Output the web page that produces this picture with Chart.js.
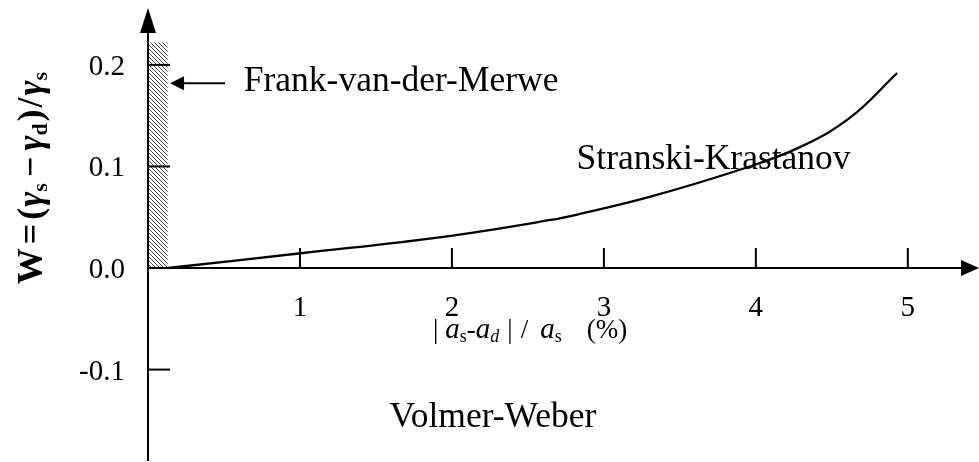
<!DOCTYPE html>
<html>
<head>
<meta charset="utf-8">
<script src="https://cdn.jsdelivr.net/npm/chart.js@4/dist/chart.umd.min.js"></script>
<style>
  html, body { margin: 0; padding: 0; background: #fff; }
  #wrap { width: 979px; height: 462px; }
</style>
</head>
<body>
<div id="wrap"><canvas id="growthChart" width="979" height="462"></canvas></div>
<script>
// misfit |as-ad|/as (%) against wetting parameter W
var misfit = [0.13, 1.02, 1.93, 2.65, 2.84, 3.30, 3.93, 4.29, 4.62, 4.93];
var wetting = [0, 0.0148, 0.0305, 0.0473, 0.0532, 0.070, 0.0985, 0.119, 0.148, 0.192];

// hatched Frank-van-der-Merwe strip at small misfit
var fvdmX = [0, 0.13];
var fvdmTop = 0.222;

var xTicks = [1, 2, 3, 4, 5];
var xTickLabels = ['1', '2', '3', '4', '5'];
var yTicks = [-0.1, 0, 0.1, 0.2];
var yTickLabels = ['-0.1', '0.0', '0.1', '0.2'];

var SERIF = '"Liberation Serif", "Times New Roman", serif';

// diagonal hatch fill
function makeHatch() {
  var c = document.createElement('canvas');
  c.width = 4; c.height = 4;
  var g = c.getContext('2d');
  g.strokeStyle = '#444';
  g.lineWidth = 1;
  g.beginPath();
  g.moveTo(-1, -1); g.lineTo(5, 5);
  g.moveTo(-1, 3); g.lineTo(1, 5);
  g.moveTo(3, -1); g.lineTo(5, 1);
  g.stroke();
  return g.createPattern(c, 'repeat');
}

// draws a row of text pieces with their own fonts and vertical shifts
function drawPieces(ctx, pieces, x, y) {
  var cx = x;
  pieces.forEach(function (p) {
    ctx.font = p.font;
    ctx.fillText(p.text, cx, y + (p.dy || 0));
    cx += ctx.measureText(p.text).width + (p.gap || 0);
  });
  return cx - x;
}
function piecesWidth(ctx, pieces) {
  var w = 0;
  pieces.forEach(function (p) {
    ctx.font = p.font;
    w += ctx.measureText(p.text).width + (p.gap || 0);
  });
  return w;
}

var axesPlugin = {
  id: 'axesPlugin',
  afterDatasetsDraw: function (chart) {
    var ctx = chart.ctx;
    var xs = chart.scales.x, ys = chart.scales.y;
    var area = chart.chartArea;
    var x0 = xs.getPixelForValue(0), y0 = ys.getPixelForValue(0);
    ctx.save();
    ctx.strokeStyle = '#000';
    ctx.fillStyle = '#000';
    ctx.lineWidth = 2;

    // y axis with arrow
    ctx.beginPath();
    ctx.moveTo(x0, area.bottom);
    ctx.lineTo(x0, area.top + 20);
    ctx.stroke();
    ctx.beginPath();
    ctx.moveTo(x0, area.top);
    ctx.lineTo(x0 - 8, area.top + 25);
    ctx.lineTo(x0 + 8, area.top + 25);
    ctx.closePath();
    ctx.fill();

    // x axis with arrow
    ctx.beginPath();
    ctx.moveTo(x0, y0);
    ctx.lineTo(chart.width - 12, y0);
    ctx.stroke();
    ctx.beginPath();
    ctx.moveTo(chart.width, y0);
    ctx.lineTo(chart.width - 18, y0 - 8);
    ctx.lineTo(chart.width - 18, y0 + 8);
    ctx.closePath();
    ctx.fill();

    // y ticks point into the plot
    ctx.font = '29px ' + SERIF;
    ctx.textAlign = 'right';
    ctx.textBaseline = 'alphabetic';
    yTicks.forEach(function (v, i) {
      var py = ys.getPixelForValue(v);
      if (v !== 0) {
        ctx.beginPath();
        ctx.moveTo(x0, py);
        ctx.lineTo(x0 + 22, py);
        ctx.stroke();
      }
      ctx.fillText(yTickLabels[i], x0 - 23, py + 10);
    });

    // x ticks point upward
    ctx.textAlign = 'center';
    xTicks.forEach(function (v, i) {
      var px = xs.getPixelForValue(v);
      ctx.beginPath();
      ctx.moveTo(px, y0);
      ctx.lineTo(px, y0 - 20);
      ctx.stroke();
      ctx.fillText(xTickLabels[i], px, y0 + 48);
    });

    // x axis title |as-ad|/as (%)
    ctx.textAlign = 'left';
    var reg = '27px ' + SERIF, ital = 'italic 29px ' + SERIF;
    var sub = '18px ' + SERIF, subI = 'italic 18px ' + SERIF;
    drawPieces(ctx, [
      { text: '|', font: reg, gap: 7 },
      { text: 'a', font: ital },
      { text: 's', font: sub, dy: 4 },
      { text: '-', font: reg },
      { text: 'a', font: ital },
      { text: 'd', font: subI, dy: 4, gap: 8 },
      { text: '|', font: reg, gap: 8 },
      { text: '/', font: reg, gap: 12 },
      { text: 'a', font: ital },
      { text: 's', font: sub, dy: 4, gap: 25 },
      { text: '(%)', font: reg }
    ], xs.getPixelForValue(1.875), ys.getPixelForValue(-0.069));

    // regime labels
    ctx.font = '35.5px ' + SERIF;
    ctx.fillText('Frank-van-der-Merwe', xs.getPixelForValue(0.63), ys.getPixelForValue(0.174));
    ctx.fillText('Stranski-Krastanov', xs.getPixelForValue(2.82), ys.getPixelForValue(0.0975));
    ctx.fillText('Volmer-Weber', xs.getPixelForValue(1.59), ys.getPixelForValue(-0.157));

    // arrow pointing at the hatched strip
    var ay = ys.getPixelForValue(0.182);
    var tipX = xs.getPixelForValue(0.145), tailX = xs.getPixelForValue(0.507);
    ctx.lineWidth = 2;
    ctx.beginPath();
    ctx.moveTo(tailX, ay);
    ctx.lineTo(tipX + 10, ay);
    ctx.stroke();
    ctx.beginPath();
    ctx.moveTo(tipX, ay);
    ctx.lineTo(tipX + 14, ay - 7);
    ctx.lineTo(tipX + 14, ay + 7);
    ctx.closePath();
    ctx.fill();

    // rotated y axis title W=(γs-γd)/γs
    var big = 'bold 36px ' + SERIF, bigI = 'bold italic 36px ' + SERIF;
    var sm = 'bold 22px ' + SERIF;
    var yTitle = [
      { text: 'W', font: big, gap: 4 },
      { text: '=', font: big, gap: 4 },
      { text: '(', font: big, gap: 1 },
      { text: 'γ', font: bigI },
      { text: 's', font: sm, dy: 5, gap: 6 },
      { text: '−', font: big, gap: 6 },
      { text: 'γ', font: bigI },
      { text: 'd', font: sm, dy: 5, gap: 2 },
      { text: ')', font: big, gap: 2 },
      { text: '/', font: big, gap: 2 },
      { text: 'γ', font: bigI },
      { text: 's', font: sm, dy: 5 }
    ];
    ctx.save();
    ctx.translate(42, 178);
    ctx.rotate(-Math.PI / 2);
    drawPieces(ctx, yTitle, -piecesWidth(ctx, yTitle) / 2, 0);
    ctx.restore();

    ctx.restore();
  }
};

var ctx = document.getElementById('growthChart').getContext('2d');

var curvePoints = misfit.map(function (m, i) { return { x: m, y: wetting[i] }; });
var stripPoints = fvdmX.map(function (m) { return { x: m, y: fvdmTop }; });

var growthChart = new Chart(ctx, {
  type: 'line',
  data: {
    datasets: [{
      label: 'Frank-van-der-Merwe',
      data: stripPoints,
      fill: 'origin',
      backgroundColor: makeHatch(),
      borderWidth: 0,
      pointRadius: 0,
      order: 2
    }, {
      label: 'W',
      data: curvePoints,
      borderColor: '#000',
      borderWidth: 2.3,
      pointRadius: 0,
      fill: false,
      tension: 0.4,
      order: 1
    }]
  },
  options: {
    responsive: false,
    animation: false,
    devicePixelRatio: 1,
    layout: { padding: { left: 148, right: 18, top: 8, bottom: 1 } },
    plugins: {
      legend: { display: false },
      tooltip: { enabled: false }
    },
    scales: {
      x: { type: 'linear', min: 0, max: 5.35, display: false },
      y: { type: 'linear', min: -0.19, max: 0.256, display: false }
    }
  },
  plugins: [axesPlugin]
});
</script>
</body>
</html>
